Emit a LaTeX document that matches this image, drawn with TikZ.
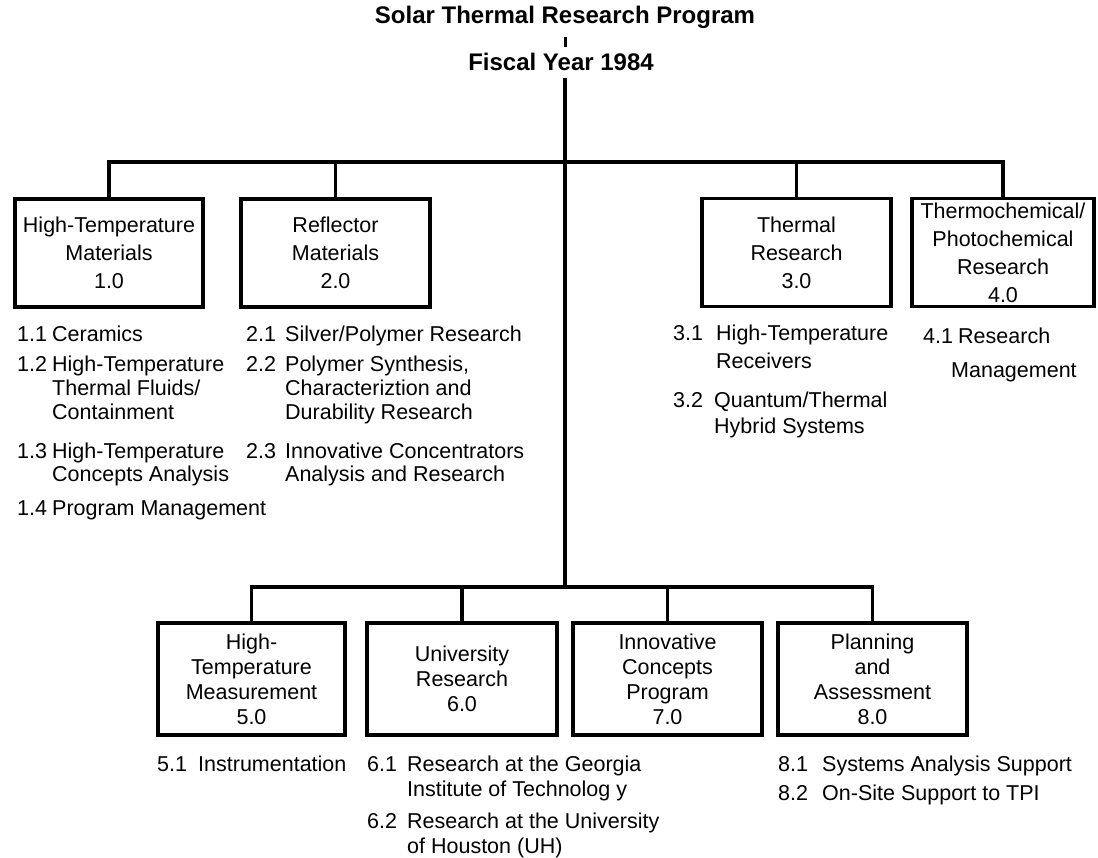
\documentclass[tikz,border=0pt]{standalone}
\usepackage{fontspec}
\setmainfont{Liberation Sans}
\begin{document}
\begin{tikzpicture}[x=1pt,y=-1pt,
  box/.style={draw, line width=3.6pt, inner sep=0pt, minimum height=108pt, align=center, font=\fontsize{21.5}{28}\selectfont},
  boxb/.style={box, minimum height=112pt, font=\fontsize{21.5}{25}\selectfont},
  conn/.style={line width=3.4pt},
  ttl/.style={font=\fontsize{24}{28}\bfseries\selectfont, inner sep=0pt},
  ln/.style={anchor=west, inner sep=0pt, text height=16pt, text depth=0pt, font=\fontsize{21.5}{24}\selectfont}]
\useasboundingbox (0,0) rectangle (1098,858);

% titles
\node[ttl] (t1) at (565,17) {Solar Thermal Research Program};
\node[ttl] (t2) at (561,62) {Fiscal Year 1984};
\coordinate (busT) at (565,162);
\coordinate (busB) at (565,587);

% top boxes
\node[box, minimum width=188pt] (b1) at (109,253) {High-Temperature\\Materials\\1.0};
\node[box, minimum width=189pt] (b2) at (335.5,253) {Reflector\\Materials\\2.0};
\node[box, minimum width=189pt] (b3) at (796.5,252.5) {Thermal\\Research\\3.0};
\node[box, minimum width=182pt] (b4) at (1003,252.5) {Thermochemical/\\Photochemical\\Research\\4.0};

% bottom boxes
\node[boxb, minimum width=187pt] (b5) at (251.5,679) {High-\\Temperature\\Measurement\\5.0};
\node[boxb, minimum width=190pt] (b6) at (462,679) {University\\Research\\6.0};
\node[boxb, minimum width=189pt] (b7) at (667.5,679) {Innovative\\Concepts\\Program\\7.0};
\node[boxb, minimum width=189pt] (b8) at (872.5,679) {Planning\\and\\Assessment\\8.0};

% connectors
\draw[line width=3pt, shorten <=9pt, shorten >=5.5pt] (t1.south -| busT) -- (t2.north -| busT);
\draw[conn, shorten <=7pt] (t2.south -| busB) -- (busB);
\draw[conn] (b1.north) |- (busT) -| (b4.north);
\draw[conn] (b2.north) -- (b2.north |- busT);
\draw[conn] (b3.north) -- (b3.north |- busT);
\draw[conn] (b5.north) |- (busB) -| (b8.north);
\draw[conn] (b6.north) -- (b6.north |- busB);
\draw[conn] (b7.north) -- (b7.north |- busB);

% list 1
\node[ln] (n11) at (17,334) {1.1};
\node[ln] (i11) at (52,334) {Ceramics};
\node[ln] (n12) at (17,364) {1.2};
\node[ln] (i12a) at (52,364) {High-Temperature};
\node[ln] (i12b) at (52,388) {Thermal Fluids/};
\node[ln] (i12c) at (52,412) {Containment};
\node[ln] (n13) at (17,450) {1.3};
\node[ln] (i13a) at (52,450) {High-Temperature};
\node[ln] (i13b) at (52,474) {Concepts Analysis};
\node[ln] (n14) at (17,507) {1.4};
\node[ln] (i14) at (52,507) {Program Management};

% list 2
\node[ln] (n21) at (246,334) {2.1};
\node[ln] (i21) at (285,334) {Silver/Polymer Research};
\node[ln] (n22) at (246,364) {2.2};
\node[ln] (i22a) at (285,364) {Polymer Synthesis,};
\node[ln] (i22b) at (285,388) {Characteriztion and};
\node[ln] (i22c) at (285,412) {Durability Research};
\node[ln] (n23) at (246,450) {2.3};
\node[ln] (i23a) at (285,450) {Innovative Concentrators};
\node[ln] (i23b) at (285,474) {Analysis and Research};

% list 3
\node[ln] (n31) at (673,333) {3.1};
\node[ln] (i31a) at (716,333) {High-Temperature};
\node[ln] (i31b) at (716,361) {Receivers};
\node[ln] (n32) at (673,400) {3.2};
\node[ln] (i32a) at (714,400) {Quantum/Thermal};
\node[ln] (i32b) at (714,426) {Hybrid Systems};

% list 4
\node[ln] (n41) at (923,336) {4.1};
\node[ln] (i41a) at (958,336) {Research};
\node[ln] (i41b) at (951,370) {Management};

% list 5
\node[ln] (n51) at (157,763) {5.1};
\node[ln] (i51) at (198,763) {Instrumentation};

% list 6
\node[ln] (n61) at (367,763) {6.1};
\node[ln] (i61a) at (407,763) {Research at the Georgia};
\node[ln] (i61b) at (407,788) {Institute of Technolog y};
\node[ln] (n62) at (367,820) {6.2};
\node[ln] (i62a) at (407,820) {Research at the University};
\node[ln] (i62b) at (407,845) {of Houston (UH)};

% list 8
\node[ln] (n81) at (778,763) {8.1};
\node[ln] (i81) at (822,763) {Systems Analysis Support};
\node[ln] (n82) at (778,792) {8.2};
\node[ln] (i82) at (822,792) {On-Site Support to TPI};
\end{tikzpicture}
\end{document}
